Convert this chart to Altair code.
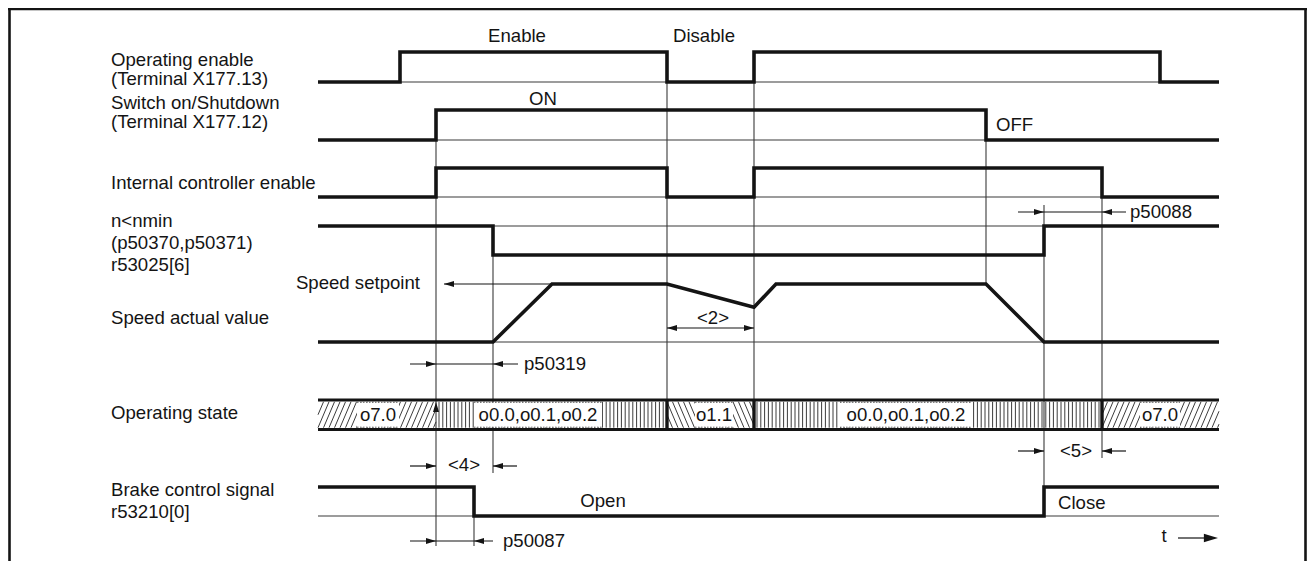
import altair as alt
import pandas as pd

FONT = "Liberation Sans"
FS = 18.6
INK = "#141414"
THIN = "#3a3a3a"
HATCH = "#3c3c3c"

# ---------------- data (time units ~ px) ----------------
# signal transition times and logic levels
OE_T = [318, 400, 400, 667, 667, 754, 754, 1160, 1160, 1219]
OE_L = [0, 0, 1, 1, 0, 0, 1, 1, 0, 0]
SW_T = [318, 436, 436, 986, 986, 1219]
SW_L = [0, 0, 1, 1, 0, 0]
IC_T = [318, 436, 436, 667, 667, 754, 754, 1102, 1102, 1219]
IC_L = [0, 0, 1, 1, 0, 0, 1, 1, 0, 0]
NM_T = [318, 493, 493, 1044, 1044, 1219]
NM_L = [1, 1, 0, 0, 1, 1]
SP_T = [318, 493, 552, 667, 754, 776, 986, 1044, 1219]
SP_L = [0, 0, 1, 1, 0.6, 1, 1, 0, 0]
BR_T = [318, 474, 474, 1044, 1044, 1219]
BR_L = [1, 1, 0, 0, 1, 1]

# operating-state band
STATE_T = [318, 436, 667, 754, 1102, 1219]
STATE_LABELS = ["o7.0", "o0.0,o0.1,o0.2", "o1.1", "o0.0,o0.1,o0.2", "o7.0"]
STATE_HATCH = ["fwd", "vert", "back", "vert", "fwd"]
STATE_LABEL_X = [378, 538, 714, 906, 1160]
STATE_BOX_HALF = [21, 64, 19, 66, 20]
STATE_DIVIDERS = [667, 754, 1102]

# left-hand signal names
NAMES = ["Operating enable", "(Terminal X177.13)", "Switch on/Shutdown",
         "(Terminal X177.12)", "Internal controller enable", "n<nmin",
         "(p50370,p50371)", "r53025[6]", "Speed actual value",
         "Operating state", "Brake control signal", "r53210[0]"]
NAMES_Y = [60, 79, 103, 122, 183, 221, 243, 265, 318, 413, 490, 512]

# annotations: (text, x, y, align)
NOTES = [
    ("Enable", 517, 36, "center"), ("Disable", 704, 36, "center"),
    ("ON", 543, 99, "center"), ("OFF", 996, 125, "left"),
    ("Speed setpoint", 420, 283, "right"), ("p50319", 524, 364, "left"),
    ("<2>", 713, 318, "center"), ("p50088", 1130, 212, "left"),
    ("<4>", 464, 465, "center"), ("<5>", 1076, 451, "center"),
    ("Open", 603, 501, "center"), ("Close", 1058, 503, "left"),
    ("p50087", 503, 541, "left"), ("t", 1164, 536, "center"),
]

# ---------------- layout (style) ----------------
LANES = {  # name: (low-level y, amplitude)
    "oe": (82, 30), "sw": (140, 30), "ic": (197, 29),
    "nm": (255, 29), "sp": (342, 58), "br": (516, 29),
}
BASELINES = [("oe", 0), ("sw", 0), ("ic", 0), ("nm", 1), ("sp", 0), ("br", 0)]
BAND_TOP, BAND_BOT = 400, 429.5

# guide lines (x, y, x2, y2)
GUIDES = [
    (436, 110, 436, 546), (493, 226, 493, 473), (667, 52, 667, 429),
    (754, 52, 754, 429), (986, 110, 986, 284), (1044, 205, 1044, 487),
    (1102, 197, 1102, 458), (474, 516, 474, 546),
]
DIMS = [
    (410, 364, 518, 364), (667, 328, 754, 328), (1018, 212, 1126, 212),
    (410, 466, 436, 466), (493, 466, 517, 466), (1018, 451, 1044, 451),
    (1102, 451, 1126, 451), (410, 541, 493, 541), (444, 284, 667, 284),
    (1178, 538, 1206, 538),
]
HEADS = [  # (x, y, angle)
    (436, 364, 0), (493, 364, 180), (667, 328, 180), (754, 328, 0),
    (1044, 212, 0), (1102, 212, 180), (436, 466, 0), (493, 466, 180),
    (1044, 451, 0), (1102, 451, 180), (436, 541, 0), (474, 541, 180),
    (444, 284, 180), (436, 402, 270),
]
BIG_HEADS = [(1218, 538, 0)]

W, H = 1299, 553
xs = alt.Scale(domain=[8, 8 + W], nice=False, zero=False)
ys = alt.Scale(domain=[8, 8 + H], nice=False, zero=False, reverse=True)


def X(f="x"):
    return alt.X(f + ":Q", scale=xs, axis=None)


def Y(f="y"):
    return alt.Y(f + ":Q", scale=ys, axis=None)


def seg_df(rows):
    return pd.DataFrame(rows, columns=["x", "y", "x2", "y2"])


def rules(rows, width, color, dash=None):
    kw = dict(strokeWidth=width, color=color, strokeCap="butt")
    if dash:
        kw["strokeDash"] = dash
    return alt.Chart(seg_df(rows)).mark_rule(**kw).encode(
        x=X(), y=Y(), x2="x2:Q", y2="y2:Q")


# signals
sig_rows = []
for name, T, L in [("oe", OE_T, OE_L), ("sw", SW_T, SW_L), ("ic", IC_T, IC_L),
                   ("nm", NM_T, NM_L), ("sp", SP_T, SP_L), ("br", BR_T, BR_L)]:
    base, amp = LANES[name]
    for i, (t, l) in enumerate(zip(T, L)):
        sig_rows.append({"sig": name, "ord": i, "x": t, "y": base - l * amp})
sig_df = pd.DataFrame(sig_rows)
signals = alt.Chart(sig_df).mark_line(
    strokeWidth=3.6, color=INK, strokeJoin="miter", strokeCap="butt"
).encode(x=X(), y=Y(), detail="sig:N", order="ord:Q")

# thin baselines
base_rows = []
for name, lev in BASELINES:
    b, a = LANES[name]
    yy = b - lev * a
    base_rows.append((SW_T[0], yy, SW_T[-1], yy))
baselines = rules(base_rows, 1.2, THIN)

guides = rules(GUIDES, 1.1, THIN)
dims = rules(DIMS, 1.2, INK)

# hatching inside the band
hy0, hy1 = BAND_TOP + 1.8, BAND_BOT - 1.8
hatch_rows = []
for k, kind in enumerate(STATE_HATCH):
    a, b = STATE_T[k], STATE_T[k + 1]
    if kind == "vert":
        xx = a + 3
        while xx < b - 1:
            hatch_rows.append((xx, hy0, xx, hy1))
            xx += 3.8
    else:
        dx = 11.0
        step = 5.5
        x0 = a - dx
        while x0 < b:
            if kind == "fwd":   # bottom-left -> top-right
                p = (x0, hy1, x0 + dx, hy0)
            else:               # top-left -> bottom-right
                p = (x0, hy0, x0 + dx, hy1)

            def at(xq):
                return p[1] + (p[3] - p[1]) * (xq - p[0]) / dx

            xa, xb = max(p[0], a), min(p[2], b)
            if xb > xa:
                hatch_rows.append((xa, at(xa), xb, at(xb)))
            x0 += step
hatch = rules(hatch_rows, 1.0, HATCH)

# white label boxes in band
box_df = pd.DataFrame({
    "x": [c - h for c, h in zip(STATE_LABEL_X, STATE_BOX_HALF)],
    "x2": [c + h for c, h in zip(STATE_LABEL_X, STATE_BOX_HALF)],
    "y": [hy0 + 0.5] * len(STATE_LABEL_X),
    "y2": [hy1 - 0.5] * len(STATE_LABEL_X),
})
boxes = alt.Chart(box_df).mark_rect(color="white").encode(
    x=X(), x2="x2:Q", y=Y(), y2="y2:Q")
box_edges_rows = []
for _, r in box_df.iterrows():
    box_edges_rows.append((r.x, r.y, r.x2, r.y))
    box_edges_rows.append((r.x, r.y2, r.x2, r.y2))
box_edges = rules(box_edges_rows, 0.8, HATCH, dash=[1.5, 1.5])

band_rows = [(STATE_T[0], BAND_TOP, STATE_T[-1], BAND_TOP),
             (STATE_T[0], BAND_BOT, STATE_T[-1], BAND_BOT)]
band = rules(band_rows, 3.2, INK)
dividers = rules([(d, BAND_TOP, d, BAND_BOT) for d in STATE_DIVIDERS], 3.4, INK)

state_text = alt.Chart(pd.DataFrame({
    "x": STATE_LABEL_X, "y": [414.5] * len(STATE_LABEL_X), "text": STATE_LABELS
})).mark_text(font=FONT, fontSize=FS, color=INK, align="center",
              baseline="middle").encode(x=X(), y=Y(), text="text:N")

# arrow heads
ARROW = "M0,0L-2,-0.6L-2,0.6Z"
heads = alt.Chart(pd.DataFrame(HEADS, columns=["x", "y", "a"])).mark_point(
    shape=ARROW, filled=True, size=100, color=INK, opacity=1, strokeWidth=0
).encode(x=X(), y=Y(), angle=alt.Angle("a:Q", scale=None))
big_heads = alt.Chart(pd.DataFrame(BIG_HEADS, columns=["x", "y", "a"])).mark_point(
    shape=ARROW, filled=True, size=200, color=INK, opacity=1, strokeWidth=0
).encode(x=X(), y=Y(), angle=alt.Angle("a:Q", scale=None))

# frame
frame = rules([(8, 9, 1307, 9), (9.5, 9, 9.5, 8 + H), (1305.5, 9, 1305.5, 8 + H)],
              2.6, INK)

# texts
names = alt.Chart(pd.DataFrame({"x": [111] * len(NAMES), "y": NAMES_Y, "text": NAMES})
                  ).mark_text(font=FONT, fontSize=FS, color=INK, align="left",
                              baseline="middle").encode(x=X(), y=Y(), text="text:N")
note_df = pd.DataFrame(NOTES, columns=["text", "x", "y", "align"])
note_layers = []
for al in ["left", "center", "right"]:
    d = note_df[note_df["align"] == al]
    note_layers.append(alt.Chart(d).mark_text(
        font=FONT, fontSize=FS, color=INK, align=al, baseline="middle"
    ).encode(x=X(), y=Y(), text="text:N"))

chart = alt.layer(
    frame, baselines, guides, hatch, boxes, box_edges, band, dividers,
    state_text, dims, heads, big_heads, signals, names, *note_layers
).properties(
    width=W, height=H, padding=0, autosize=alt.AutoSizeParams(type="none"),
    background="white"
).configure_view(strokeWidth=0)

chart.save("out.html", embed_options={"renderer": "svg", "actions": False})
